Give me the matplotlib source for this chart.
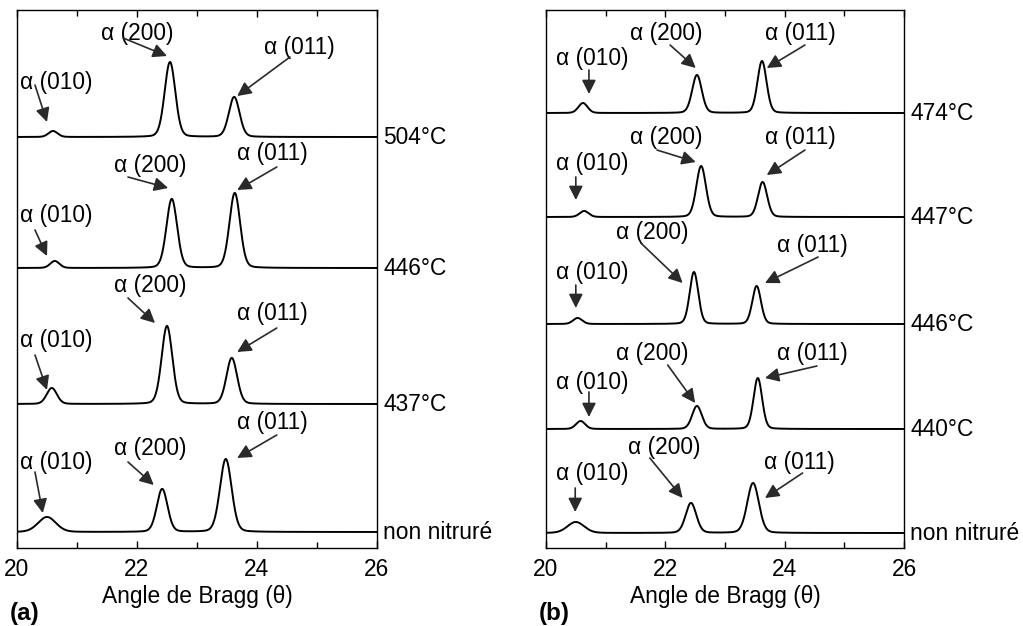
import numpy as np
import matplotlib
matplotlib.use("Agg")
import matplotlib.pyplot as plt
from matplotlib.transforms import blended_transform_factory

plt.rcParams['font.family'] = ['Liberation Sans', 'DejaVu Sans']
FS = 16.4

# ---------------- data ----------------
# peak order in every pattern: alpha(010), alpha(200), alpha(011)
peak_names = ['α (010)', 'α (200)', 'α (011)']

# panel (a)
a_labels = ['504°C', '446°C', '437°C', 'non nitruré']
a_offsets = [411, 280, 144, 16]
a_pos = [[20.60, 22.55, 23.62],
         [20.63, 22.58, 23.63],
         [20.58, 22.50, 23.58],
         [20.50, 22.42, 23.48]]
a_height = [[6, 75, 40],
            [7, 69, 75],
            [16, 78, 46],
            [15, 43, 73]]
a_fwhm = [[0.18, 0.21, 0.21],
          [0.18, 0.21, 0.21],
          [0.20, 0.21, 0.21],
          [0.35, 0.21, 0.23]]
# annotation: text centre, arrow tail, arrow head (x in deg, y in plot units)
a_text = [[(20.65, 466), (22.00, 515), (24.70, 501)],
          [(20.65, 333), (22.22, 383), (24.25, 395)],
          [(20.65, 208), (22.22, 263), (24.25, 235)],
          [(20.65, 86), (22.22, 100), (24.25, 126)]]
a_tail = [[(20.30, 463), (21.77, 510), (24.55, 491)],
          [(20.30, 318), (21.85, 371), (24.33, 381)],
          [(20.30, 193), (21.85, 250), (24.33, 220)],
          [(20.30, 76), (21.85, 86), (24.33, 113)]]
a_head = [[(20.50, 426), (22.50, 492), (23.67, 452)],
          [(20.50, 292), (22.52, 360), (23.67, 358)],
          [(20.50, 158), (22.30, 225), (23.67, 196)],
          [(20.43, 35), (22.28, 63), (23.67, 90)]]

# panel (b)
b_labels = ['474°C', '447°C', '446°C', '440°C', 'non nitruré']
b_offsets = [435, 331, 224, 119, 15]
b_pos = [[20.62, 22.53, 23.62],
         [20.64, 22.60, 23.63],
         [20.53, 22.48, 23.53],
         [20.58, 22.53, 23.55],
         [20.50, 22.43, 23.47]]
b_height = [[10, 38, 52],
            [6, 51, 35],
            [6, 52, 38],
            [8, 23, 51],
            [11, 30, 50]]
b_fwhm = [[0.18, 0.19, 0.18],
          [0.18, 0.19, 0.18],
          [0.18, 0.17, 0.17],
          [0.18, 0.19, 0.17],
          [0.33, 0.21, 0.23]]
b_text = [[(20.78, 490), (22.01, 515), (24.27, 515)],
          [(20.78, 385), (22.01, 411), (24.27, 411)],
          [(20.78, 276), (21.78, 316), (24.47, 303)],
          [(20.78, 166), (21.78, 195), (24.46, 195)],
          [(20.78, 75), (21.98, 101), (24.24, 86)]]
b_tail = [[(20.72, 478), (22.08, 503), (24.34, 503)],
          [(20.50, 371), (21.86, 398), (24.34, 398)],
          [(20.50, 263), (21.59, 305), (24.56, 291)],
          [(20.72, 156), (22.04, 183), (24.54, 182)],
          [(20.49, 60), (21.74, 90), (24.30, 75)]]
b_head = [[(20.72, 454), (22.51, 480), (23.70, 480)],
          [(20.50, 348), (22.51, 386), (23.70, 373)],
          [(20.50, 240), (22.29, 265), (23.67, 265)],
          [(20.72, 131), (22.50, 145), (23.67, 170)],
          [(20.49, 36), (22.29, 50), (23.67, 50)]]


def pattern(x, pos, height, fwhm):
    # pseudo-Voigt peaks (mostly gaussian)
    y = np.zeros_like(x)
    for p, h, w in zip(pos, height, fwhm):
        s = w / 2.355
        g = np.exp(-0.5 * ((x - p) / s) ** 2)
        lor = 1.0 / (1.0 + ((x - p) / (w / 2)) ** 2)
        y += h * (0.85 * g + 0.15 * lor)
    return y


def draw_panel(ax, labels, offsets, pos, height, fwhm, texts, tails, heads, tag):
    x = np.linspace(20, 26, 1500)
    trans = blended_transform_factory(ax.transAxes, ax.transData)
    for i, lab in enumerate(labels):
        ax.plot(x, offsets[i] + pattern(x, pos[i], height[i], fwhm[i]),
                color='black', lw=1.4)
        ax.text(1.017, offsets[i], lab, transform=trans, fontsize=FS,
                va='center', ha='left', clip_on=False)
        for j in range(3):
            ax.text(texts[i][j][0], texts[i][j][1], peak_names[j], fontsize=FS,
                    ha='center', va='center')
            ax.annotate('', xy=heads[i][j], xytext=tails[i][j],
                        arrowprops=dict(arrowstyle='-|>', color='#2a2a2a',
                                        lw=1.2, mutation_scale=21,
                                        shrinkA=0, shrinkB=0))
    ax.set_xlim(20, 26)
    ax.set_ylim(0, 538)
    ax.set_yticks([])
    ax.set_xticks([20, 22, 24, 26])
    ax.set_xticks([21, 23, 25], minor=True)
    ax.tick_params(axis='x', which='both', direction='in', top=True,
                   labelsize=FS, pad=7, width=1)
    ax.tick_params(axis='x', which='major', length=5)
    ax.tick_params(axis='x', which='minor', length=4)
    ax.set_xlabel('Angle de Bragg (θ)', fontsize=FS, labelpad=3)
    for sp in ax.spines.values():
        sp.set_linewidth(1.0)
    ax.text(-0.02, -0.121, tag, transform=ax.transAxes, fontsize=FS + 1,
            fontweight='bold', ha='left', va='center')


fig = plt.figure(figsize=(10.23, 6.26), dpi=100)
ax_a = fig.add_axes([0.0166, 0.1246, 0.3519, 0.8594])
ax_b = fig.add_axes([0.5337, 0.1246, 0.3500, 0.8594])

draw_panel(ax_a, a_labels, a_offsets, a_pos, a_height, a_fwhm,
           a_text, a_tail, a_head, '(a)')
draw_panel(ax_b, b_labels, b_offsets, b_pos, b_height, b_fwhm,
           b_text, b_tail, b_head, '(b)')

fig.savefig('out.png', dpi=100)
